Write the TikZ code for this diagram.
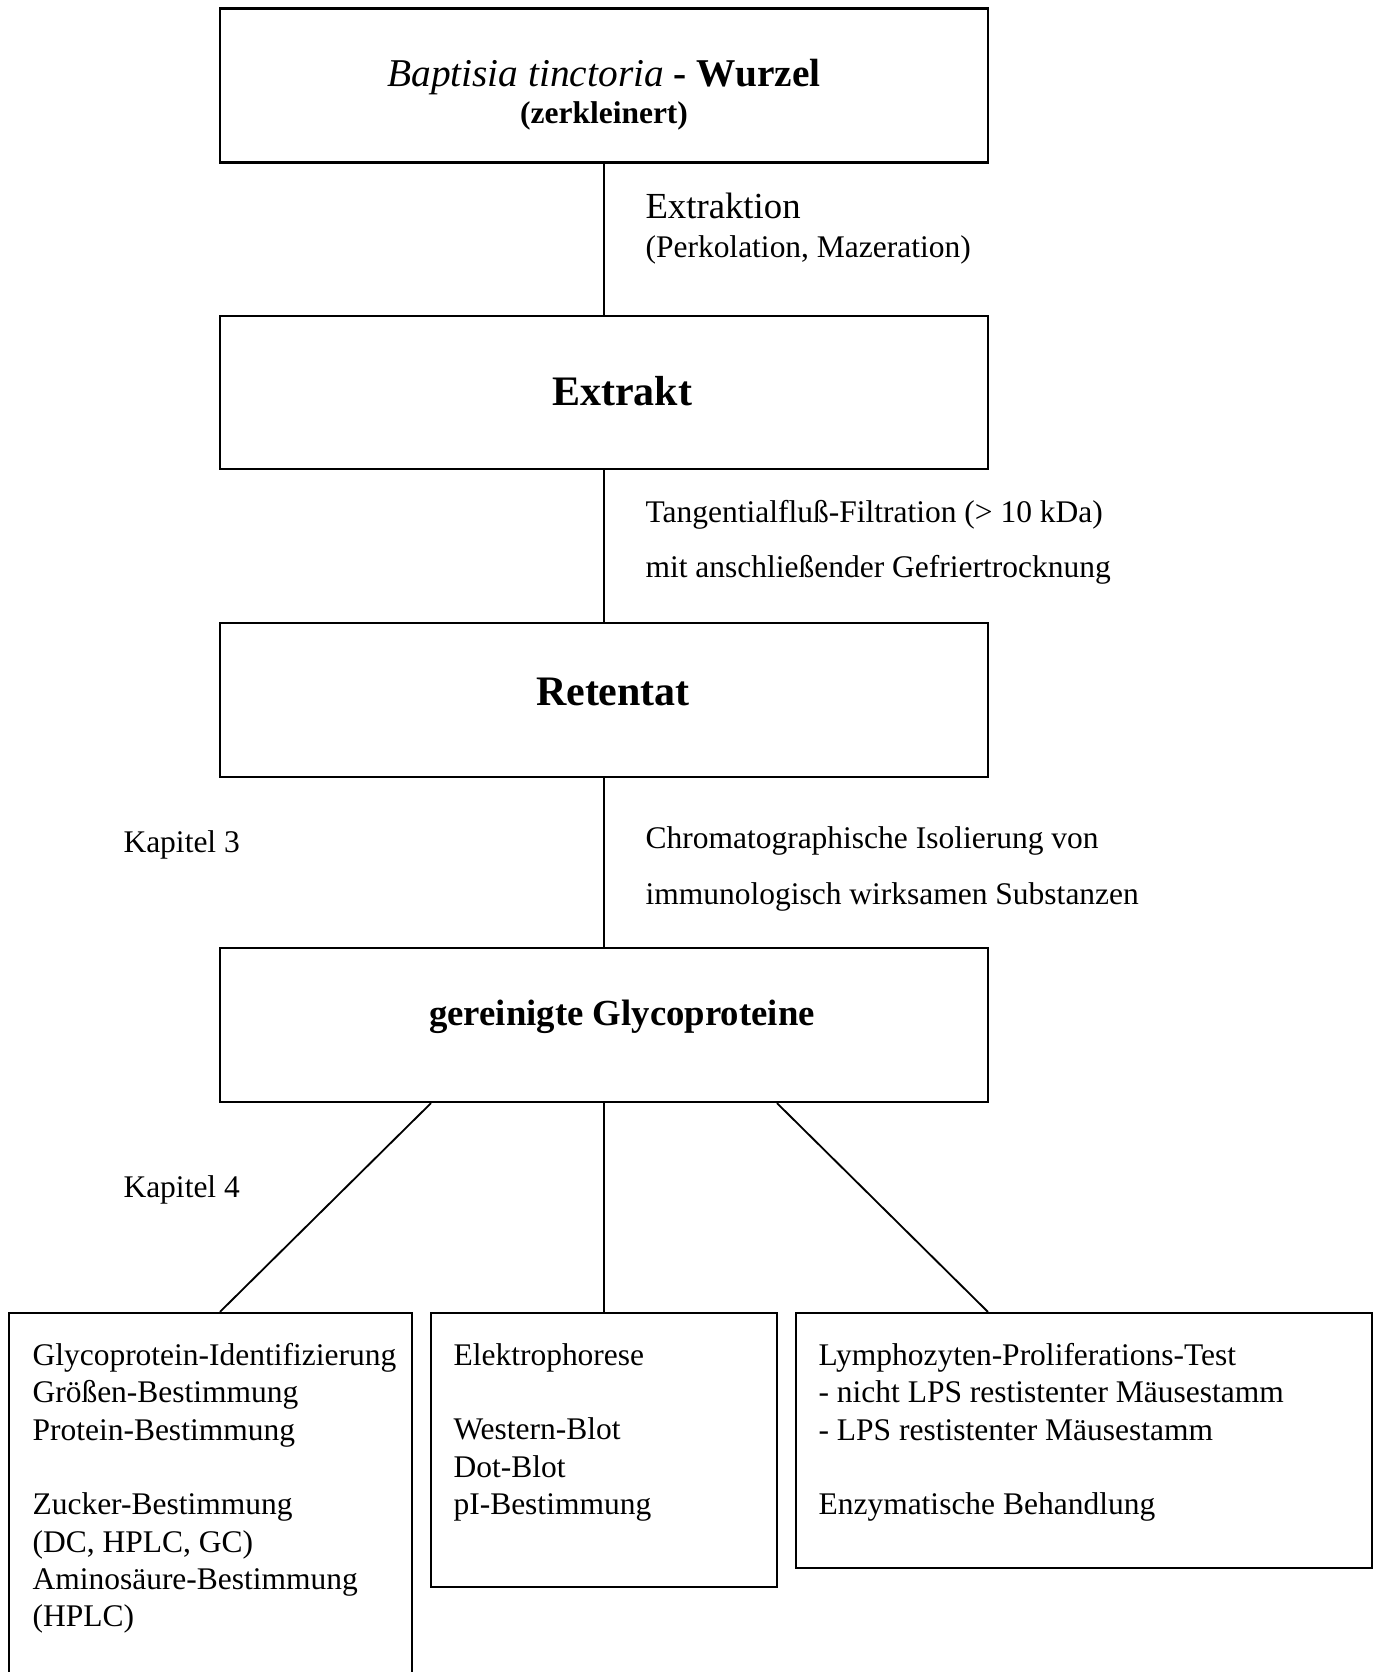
\documentclass[tikz,border=0pt]{standalone}
\usepackage{fontspec}
\setmainfont{Liberation Serif}
\usetikzlibrary{calc}
\begin{document}
\begin{tikzpicture}[x=0.381pt,y=-0.381pt,
  box/.style={draw, line width=0.8pt, inner sep=0pt},
  link/.style={line width=0.7pt},
  title/.style={anchor=base, inner sep=0pt, font=\fontsize{16}{19}\selectfont\bfseries},
  label/.style={anchor=base west, inner sep=0pt, font=\fontsize{12}{14.2}\selectfont},
  list/.style={anchor=north west, inner sep=0pt, align=left, font=\fontsize{12}{14.2}\selectfont}]
\useasboundingbox (0,0) rectangle (1379,1672);
\clip (0,0) rectangle (1379,1672);

% main chain of boxes
\node[box, minimum width=292.6pt, minimum height=58.7pt] (root) at (604,85.5) {};
\node[box, minimum width=292.6pt, minimum height=58.3pt] (ext)  at (604,392.5) {};
\node[box, minimum width=292.6pt, minimum height=58.7pt] (ret)  at (604,700) {};
\node[box, minimum width=292.6pt, minimum height=58.7pt] (gly)  at (604,1025) {};

% result boxes
\node[box, minimum width=153.5pt, minimum height=155.1pt] (lbox) at (210.5,1516.5) {};
\node[box, minimum width=131.8pt, minimum height=104.4pt] (mbox) at (604,1450) {};
\node[box, minimum width=219.5pt, minimum height=97.2pt]  (rbox) at (1084,1440.5) {};

% box texts
\node[anchor=base, inner sep=0pt, font=\fontsize{15}{18}\selectfont] (roottxt) at (604,86)
  {\textit{Baptisia tinctoria} \textbf{- Wurzel}};
\node[anchor=base, inner sep=0pt, font=\fontsize{12}{14.2}\selectfont\bfseries] (rootsub) at (604,123)
  {(zerkleinert)};
\node[title] (exttxt) at (622,405) {Extrakt};
\node[title] (rettxt) at (613,705) {Retentat};
\node[title, font=\fontsize{14}{17}\selectfont\bfseries] (glytxt) at (622,1025) {gereinigte Glycoproteine};

% connectors
\draw[link] (root.south) -- (ext.north);
\draw[link] (ext.south) -- (ret.north);
\draw[link] (ret.south) -- (gly.north);
\draw[link] ([xshift=-65.9pt]gly.south) -- ([xshift=3.6pt]lbox.north);
\draw[link] (gly.south) -- (mbox.north);
\draw[link] ([xshift=65.9pt]gly.south) -- ([xshift=-36.6pt]rbox.north);

% step labels
\node[label, font=\fontsize{14}{16}\selectfont] (l1a) at (645,218) {Extraktion};
\node[label] (l1b) at (645,257) {(Perkolation, Mazeration)};
\node[label] (l2a) at (645,522) {Tangentialflu{\ss}-Filtration (> 10 kDa)};
\node[label] (l2b) at (645,577) {mit anschlie{\ss}ender Gefriertrocknung};
\node[label] (l3a) at (645,848) {Chromatographische Isolierung von};
\node[label] (l3b) at (645,904) {immunologisch wirksamen Substanzen};
\node[label] (k3) at (123,852) {Kapitel 3};
\node[label] (k4) at (123,1197) {Kapitel 4};

% contents of the result boxes
\node[list] (ltxt) at (32,1343) {Glycoprotein-Identifizierung\\Gr{\"o}{\ss}en-Bestimmung\\Protein-Bestimmung\\[14.2pt]Zucker-Bestimmung\\(DC, HPLC, GC)\\Aminos{\"a}ure-Bestimmung\\(HPLC)};
\node[list] (mtxt) at (453,1343) {Elektrophorese\\[14.2pt]Western-Blot\\Dot-Blot\\pI-Bestimmung};
\node[list] (rtxt) at (818,1343) {Lymphozyten-Proliferations-Test\\- nicht LPS restistenter M{\"a}usestamm\\- LPS restistenter M{\"a}usestamm\\[14.2pt]Enzymatische Behandlung};
\end{tikzpicture}
\end{document}
